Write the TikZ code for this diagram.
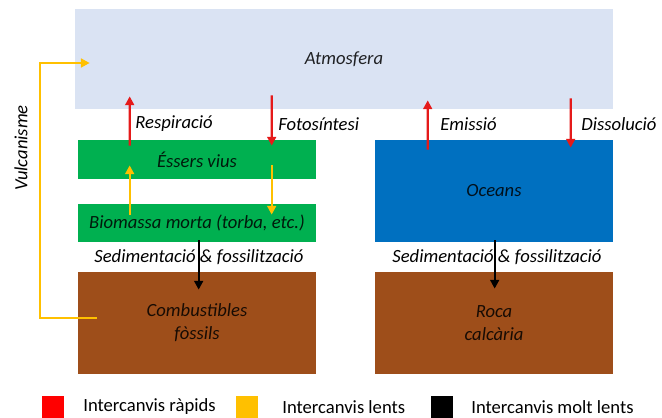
\documentclass[tikz,border=0pt]{standalone}
\usepackage{fontspec}
\setmainfont{Carlito}
\usetikzlibrary{arrows.meta, calc, positioning}
\definecolor{atmoblue}{HTML}{DAE3F3}
\definecolor{lifegreen}{HTML}{00B050}
\definecolor{seablue}{HTML}{0070C0}
\definecolor{rockbrown}{HTML}{9E4E1A}
\definecolor{fastred}{HTML}{E51A1A}
\definecolor{slowyellow}{HTML}{FFC000}
\tikzstyle{reservoir} = [rectangle, inner sep=0pt, minimum width=4.76cm, text centered, align=center, text=black, text opacity=0.85, font=\fontsize{10.6}{13}\selectfont\itshape]
\tikzstyle{arrow} = [line width=1.3pt, -{Triangle[length=5pt, width=5pt]}]
\tikzstyle{rapid} = [arrow, draw=fastred]
\tikzstyle{slow} = [arrow, draw=slowyellow]
\tikzstyle{veryslow} = [arrow, draw=black]
\tikzstyle{flux} = [inner sep=0pt, font=\fontsize{10.6}{13}\selectfont\itshape]
\tikzstyle{legendsq} = [rectangle, minimum size=0.44cm, inner sep=0pt]

\begin{document}
\begin{tikzpicture}[x=0.02cm, y=-0.02cm,
        every node/.style={font=\fontsize{10.6}{13}\selectfont}]
    \useasboundingbox (0,0) rectangle (662,418);

    % reservoirs
    \node [reservoir, fill=atmoblue, minimum width=10.76cm, minimum height=2cm] (atmos) at (344,59) {Atmosfera};
    \node [reservoir, fill=lifegreen, minimum height=0.78cm] (essers) at (197,159.5) {Éssers vius};
    \node [reservoir, fill=lifegreen, minimum height=0.76cm] (biomassa) at (197,223) {Biomassa morta (torba, etc.)};
    \node [reservoir, fill=rockbrown, minimum height=2.04cm] (combust) at (197,323) {Combustibles\\fòssils};
    \node [reservoir, fill=seablue, minimum height=2.04cm] (oceans) at (494,191) {Oceans};
    \node [reservoir, fill=rockbrown, minimum height=2.04cm] (roca) at (494,323) {Roca\\calcària};

    % fast exchanges
    \draw[rapid] ($(essers.north west)+(52,6)$) -- ($(atmos.south west)+(55,-13)$);
    \draw[rapid] ($(atmos.south west)+(197,-14)$) -- ($(essers.north west)+(194,6)$);
    \draw[rapid] ($(oceans.north west)+(53,10)$) -- ($(atmos.south west)+(353,-9)$);
    \draw[rapid] ($(atmos.south west)+(496,-11)$) -- ($(oceans.north west)+(196,8)$);
    \node [flux, anchor=west] (resp) at (135,124) {Respiració};
    \node [flux, anchor=west] (foto) at (278,124) {Fotosíntesi};
    \node [flux, anchor=west] (emis) at (440,124) {Emissió};
    \node [flux, anchor=west] (diss) at (581,124) {Dissolució};

    % slow exchanges
    \draw[slow] ($(biomassa.north west)+(52,11)$) -- ($(essers.south west)+(52,-14)$);
    \draw[slow] ($(essers.south west)+(194,-14)$) -- ($(biomassa.north west)+(194,11)$);
    \coordinate (volcano) at ($(combust.west)+(19,-5)$);
    \coordinate (volcanoend) at ($(atmos.west)+(15,4)$);
    \draw[slow] (volcano) -- ++(-57,0) |- (volcanoend);
    \node [flux, rotate=90] (vulc) at (21,148) {Vulcanisme};

    % very slow exchanges
    \draw[veryslow] ($(biomassa.south west)+(121,-2)$) -- ($(combust.north west)+(121,18)$);
    \draw[veryslow] ($(oceans.south west)+(120,-2)$) -- ($(roca.north west)+(120,17)$);
    \node [flux] (sedl) at (199,257) {Sedimentació \& fossilització};
    \node [flux] (sedr) at (497,257) {Sedimentació \& fossilització};

    % legend
    \node [legendsq, fill=red] (legfast) at (53,407) {};
    \node [legendsq, fill=slowyellow] (legslow) at (247,407) {};
    \node [legendsq, fill=black] (legvslow) at (442,407) {};
    \node [anchor=west, inner sep=0pt] (txtfast) at (83,407) {Intercanvis ràpids};
    \node [anchor=west, inner sep=0pt] (txtslow) at (282,407) {Intercanvis lents};
    \node [anchor=west, inner sep=0pt] (txtvslow) at (471,407) {Intercanvis molt lents};
\end{tikzpicture}
\end{document}
